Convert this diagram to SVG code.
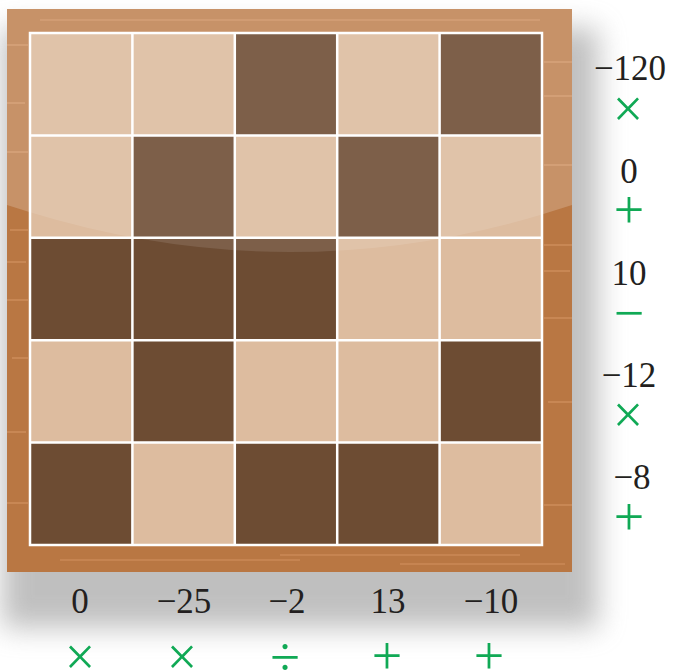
<svg xmlns="http://www.w3.org/2000/svg" width="674" height="671" viewBox="0 0 674 671">
<defs>
<filter id="sh" x="-20%" y="-20%" width="140%" height="140%"><feGaussianBlur stdDeviation="14"/></filter>
<clipPath id="gridclip"><rect x="30" y="33" width="512" height="512"/></clipPath>
<style>
.L{fill:#ddbc9f}
.D{fill:#6d4c33}
.grain{stroke:#e8a878;stroke-width:1.2;opacity:0.55}
.num{font-family:"Liberation Serif","Times New Roman",serif;font-size:35px;fill:#231f20;text-anchor:middle}
.op{font-family:"Liberation Serif","Times New Roman",serif;font-size:54px;fill:#10a955;text-anchor:middle}
</style>
</defs>
<rect width="674" height="671" fill="#ffffff"/>
<g id="shadow">
<rect x="2" y="28" width="596" height="600" fill="#8c8c8c" opacity="0.55" filter="url(#sh)"/>
</g>
<g id="board">
<rect x="7" y="9" width="565" height="563" fill="#b97743"/>
<g id="frame-grain">
<line class="grain" x1="7" y1="45" x2="28" y2="45"/>
<line class="grain" x1="7" y1="103" x2="25" y2="103"/>
<line class="grain" x1="7" y1="152" x2="28" y2="152"/>
<line class="grain" x1="10" y1="230" x2="28" y2="230"/>
<line class="grain" x1="7" y1="262" x2="26" y2="262"/>
<line class="grain" x1="7" y1="300" x2="28" y2="300"/>
<line class="grain" x1="12" y1="358" x2="28" y2="358"/>
<line class="grain" x1="7" y1="432" x2="26" y2="432"/>
<line class="grain" x1="7" y1="503" x2="28" y2="503"/>
<line class="grain" x1="544" y1="62" x2="572" y2="62"/>
<line class="grain" x1="544" y1="96" x2="572" y2="96"/>
<line class="grain" x1="544" y1="165" x2="572" y2="165"/>
<line class="grain" x1="544" y1="245" x2="572" y2="245"/>
<line class="grain" x1="544" y1="271" x2="570" y2="271"/>
<line class="grain" x1="544" y1="318" x2="572" y2="318"/>
<line class="grain" x1="548" y1="402" x2="572" y2="402"/>
<line class="grain" x1="544" y1="505" x2="572" y2="505"/>
<line class="grain" x1="60" y1="560" x2="300" y2="560"/>
<line class="grain" x1="280" y1="555" x2="520" y2="555"/>
<line class="grain" x1="400" y1="564" x2="565" y2="564"/>
<line class="grain" x1="40" y1="20" x2="540" y2="20"/>
</g>
<path d="M7,9 H572 V205 Q290,299 7,205 Z" fill="#ffffff" opacity="0.2"/>
</g>
<g id="grid">
<rect id="c11" class="L" x="30" y="33" width="102.4" height="102.4"/>
<rect id="c12" class="L" x="132.4" y="33" width="102.4" height="102.4"/>
<rect id="c13" class="D" x="234.8" y="33" width="102.4" height="102.4"/>
<rect id="c14" class="L" x="337.2" y="33" width="102.4" height="102.4"/>
<rect id="c15" class="D" x="439.6" y="33" width="102.4" height="102.4"/>
<rect id="c21" class="L" x="30" y="135.4" width="102.4" height="102.4"/>
<rect id="c22" class="D" x="132.4" y="135.4" width="102.4" height="102.4"/>
<rect id="c23" class="L" x="234.8" y="135.4" width="102.4" height="102.4"/>
<rect id="c24" class="D" x="337.2" y="135.4" width="102.4" height="102.4"/>
<rect id="c25" class="L" x="439.6" y="135.4" width="102.4" height="102.4"/>
<rect id="c31" class="D" x="30" y="237.8" width="102.4" height="102.4"/>
<rect id="c32" class="D" x="132.4" y="237.8" width="102.4" height="102.4"/>
<rect id="c33" class="D" x="234.8" y="237.8" width="102.4" height="102.4"/>
<rect id="c34" class="L" x="337.2" y="237.8" width="102.4" height="102.4"/>
<rect id="c35" class="L" x="439.6" y="237.8" width="102.4" height="102.4"/>
<rect id="c41" class="L" x="30" y="340.2" width="102.4" height="102.4"/>
<rect id="c42" class="D" x="132.4" y="340.2" width="102.4" height="102.4"/>
<rect id="c43" class="L" x="234.8" y="340.2" width="102.4" height="102.4"/>
<rect id="c44" class="L" x="337.2" y="340.2" width="102.4" height="102.4"/>
<rect id="c45" class="D" x="439.6" y="340.2" width="102.4" height="102.4"/>
<rect id="c51" class="D" x="30" y="442.6" width="102.4" height="102.4"/>
<rect id="c52" class="L" x="132.4" y="442.6" width="102.4" height="102.4"/>
<rect id="c53" class="D" x="234.8" y="442.6" width="102.4" height="102.4"/>
<rect id="c54" class="D" x="337.2" y="442.6" width="102.4" height="102.4"/>
<rect id="c55" class="L" x="439.6" y="442.6" width="102.4" height="102.4"/>
<path d="M7,9 H572 V205 Q290,299 7,205 Z" fill="#ffffff" opacity="0.11" clip-path="url(#gridclip)"/>
<g fill="none" stroke="#ffffff" stroke-width="2.5">
<rect x="30" y="33" width="512" height="512"/>
<path d="M132.4,33 V545 M234.8,33 V545 M337.2,33 V545 M439.6,33 V545 M30,135.4 H542 M30,237.8 H542 M30,340.2 H542 M30,442.6 H542"/>
</g>
</g>
<g id="row-labels">
<text class="num" x="630" y="80">−120</text>
<text class="op" x="628" y="127">×</text>
<text class="num" x="629" y="183">0</text>
<text class="op" x="629" y="228">+</text>
<text class="num" x="629" y="285">10</text>
<text class="op" x="629" y="331">−</text>
<text class="num" x="629" y="387">−12</text>
<text class="op" x="628" y="433">×</text>
<text class="num" x="632" y="489">−8</text>
<text class="op" x="629" y="535">+</text>
</g>
<g id="col-labels">
<text class="num" x="80" y="613">0</text>
<text class="num" x="184" y="613">−25</text>
<text class="num" x="287" y="613">−2</text>
<text class="num" x="388" y="613">13</text>
<text class="num" x="491" y="613">−10</text>
<text class="op" x="80" y="675">×</text>
<text class="op" x="182" y="675">×</text>
<text class="op" x="285" y="675">÷</text>
<text class="op" x="387" y="674">+</text>
<text class="op" x="489" y="674">+</text>
</g>
</svg>
